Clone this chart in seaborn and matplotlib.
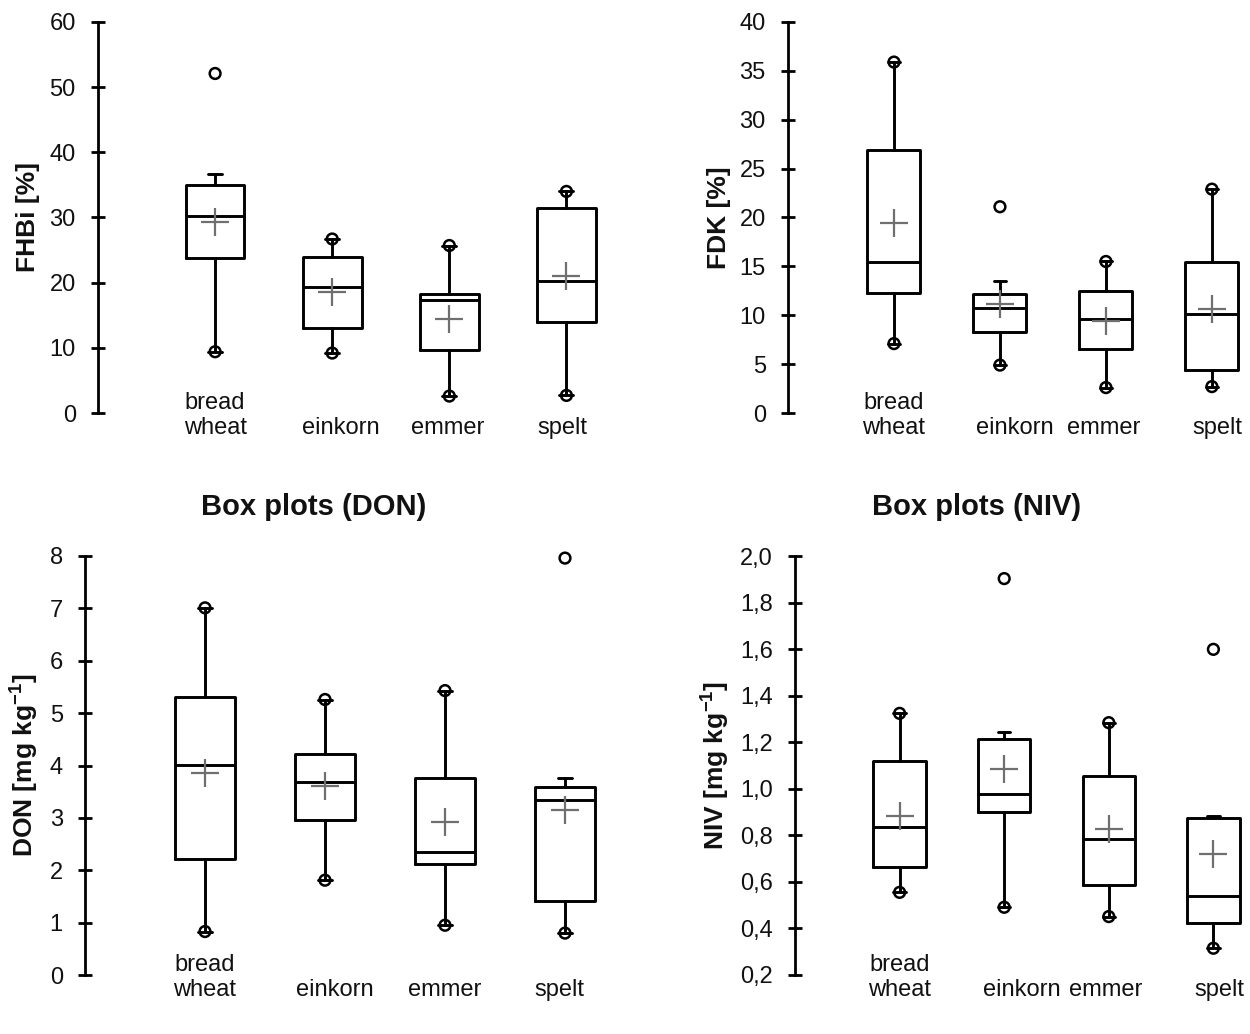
import numpy as np
import pandas as pd
import matplotlib
matplotlib.use("Agg")
import matplotlib.pyplot as plt
import matplotlib.transforms as mtransforms
import seaborn as sns

categories = ['bread\nwheat', '\neinkorn', '\nemmer', '\nspelt']

# per box: lower whisker, Q1, median, Q3, upper whisker
fhbi_box = [(9.4, 23.8, 30.3, 35.0, 36.7), (9.2, 13.0, 19.4, 23.9, 26.7),
            (2.6, 9.7, 17.4, 18.3, 25.7), (2.7, 13.9, 20.3, 31.5, 34.0)]
fhbi_mean = [29.3, 18.5, 14.4, 21.0]
fhbi_out = [[52.1], [], [], []]

fdk_box = [(7.1, 12.3, 15.4, 26.9, 35.9), (4.9, 8.3, 10.7, 12.2, 13.5),
           (2.6, 6.5, 9.6, 12.5, 15.5), (2.7, 4.4, 10.1, 15.4, 22.9)]
fdk_mean = [19.4, 11.1, 9.4, 10.6]
fdk_out = [[], [21.1], [], []]

don_box = [(0.83, 2.21, 4.01, 5.31, 7.01), (1.81, 2.96, 3.69, 4.22, 5.26),
           (0.95, 2.12, 2.34, 3.77, 5.43), (0.80, 1.42, 3.35, 3.58, 3.76)]
don_mean = [3.85, 3.60, 2.93, 3.15]
don_out = [[], [], [], [7.96]]

niv_box = [(0.555, 0.665, 0.837, 1.119, 1.324), (0.491, 0.902, 0.978, 1.214, 1.245),
           (0.451, 0.587, 0.783, 1.055, 1.284), (0.315, 0.425, 0.539, 0.876, 0.885)]
niv_mean = [0.883, 1.084, 0.827, 0.720]
niv_out = [[], [1.903], [], [1.599]]

fhbi_ticks = [0, 10, 20, 30, 40, 50, 60]
fdk_ticks = [0, 5, 10, 15, 20, 25, 30, 35, 40]
don_ticks = [0, 1, 2, 3, 4, 5, 6, 7, 8]
niv_ticks = [0.2, 0.4, 0.6, 0.8, 1.0, 1.2, 1.4, 1.6, 1.8, 2.0]
niv_ticklabels = ['0,2', '0,4', '0,6', '0,8', '1,0', '1,2', '1,4', '1,6', '1,8', '2,0']

sns.set_theme(style="white")
plt.rcParams['font.family'] = ['Liberation Sans', 'DejaVu Sans']
plt.rcParams['mathtext.fontset'] = 'custom'
plt.rcParams['mathtext.rm'] = 'Liberation Sans'
plt.rcParams['mathtext.bf'] = 'Liberation Sans:bold'
plt.rcParams['text.color'] = '#111111'
plt.rcParams['axes.labelcolor'] = '#111111'
plt.rcParams['xtick.color'] = '#111111'
plt.rcParams['ytick.color'] = '#111111'

fig = plt.figure(figsize=(12.5, 10.34), dpi=100)


def draw_panel(ax, box, mean, out, ticks, ticklabels, ylabel, xmax, label_x,
               title=None, title_x=0.5, shifts=(0, 0, 0, 0)):
    pos = np.arange(1, len(box) + 1)
    stats = [dict(whislo=b[0], q1=b[1], med=b[2], q3=b[3], whishi=b[4], fliers=[]) for b in box]
    line = dict(color='black', linewidth=2.1)
    ax.bxp(stats, positions=pos, widths=0.5, capwidths=0.12, showfliers=False,
           boxprops=line, medianprops=line, whiskerprops=line, capprops=line)

    # circles: outliers plus min / max
    px, py = [], []
    for p, b, o in zip(pos, box, out):
        vals = list(o)
        if not any(v < b[0] for v in o):
            vals.append(b[0])
        if not any(v > b[4] for v in o):
            vals.append(b[4])
        px += [p] * len(vals)
        py += vals
    pts = pd.DataFrame({'x': px, 'y': py})
    sns.scatterplot(data=pts, x='x', y='y', marker='o', s=60, facecolor='none',
                    edgecolor='black', linewidth=1.8, zorder=4, clip_on=False,
                    legend=False, ax=ax)
    sns.scatterplot(x=pos, y=mean, marker='+', s=380, color='#6f6f6f',
                    linewidth=1.6, zorder=5, legend=False, ax=ax)

    ax.set_xlim(0, xmax)
    ax.set_ylim(ticks[0], ticks[-1])
    ax.set_yticks(ticks, ticklabels)
    ax.set_xticks(pos, categories)
    ax.tick_params(axis='x', length=0, pad=2, labelsize=17)
    ax.tick_params(axis='y', direction='inout', length=10, width=2, pad=11,
                   labelsize=17, color='black', left=True)
    for lab, dx in zip(ax.get_xticklabels(), shifts):
        lab.set_va('center')
        lab.set_transform(lab.get_transform() +
                          mtransforms.ScaledTranslation(dx / 100, 0, fig.dpi_scale_trans))
    sns.despine(ax=ax, bottom=True)
    ax.spines['left'].set_linewidth(2)
    ax.spines['left'].set_color('black')
    ax.set_xlabel('')
    ax.set_ylabel(ylabel, fontsize=19, fontweight='bold')
    ax.yaxis.set_label_coords(label_x, 0.5)
    ax.set_facecolor('white')
    if title:
        ax.text(title_x, 1.117, title, transform=ax.transAxes, ha='center', va='center',
                fontsize=21, fontweight='bold')


ax1 = fig.add_axes([98 / 1250, 1 - 413 / 1034, 527 / 1250, 391 / 1034])
draw_panel(ax1, fhbi_box, fhbi_mean, fhbi_out, fhbi_ticks, [str(t) for t in fhbi_ticks],
           'FHBi [%]', 4.5, -0.110, shifts=(0, 9, -2, -4))

ax2 = fig.add_axes([788 / 1250, 1 - 413 / 1034, 461 / 1250, 391 / 1034])
draw_panel(ax2, fdk_box, fdk_mean, fdk_out, fdk_ticks, [str(t) for t in fdk_ticks],
           'FDK [%]', 4.35, -0.124, shifts=(0, 15, -2, 5))

ax3 = fig.add_axes([85 / 1250, 1 - 975 / 1034, 540 / 1250, 419 / 1034])
draw_panel(ax3, don_box, don_mean, don_out, don_ticks, [str(t) for t in don_ticks],
           r'DON [mg kg$^{\mathbf{-1}}$]', 4.5, -0.083, 'Box plots (DON)', 0.424,
           shifts=(0, 10, 0, -6))

ax4 = fig.add_axes([795 / 1250, 1 - 975 / 1034, 455 / 1250, 419 / 1034])
draw_panel(ax4, niv_box, niv_mean, niv_out, niv_ticks, niv_ticklabels,
           r'NIV [mg kg$^{\mathbf{-1}}$]', 4.35, -0.141, 'Box plots (NIV)', 0.40,
           shifts=(0, 18, -3, 6))

fig.savefig('out.png', dpi=100, facecolor='white')
